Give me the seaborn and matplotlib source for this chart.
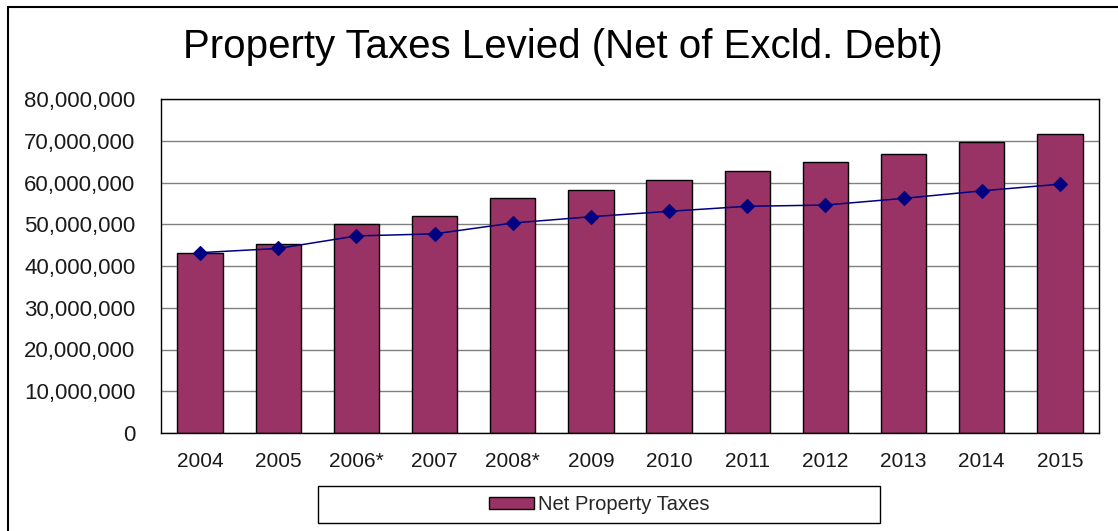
import matplotlib
matplotlib.use("Agg")
import matplotlib.pyplot as plt
from matplotlib.lines import Line2D
from matplotlib.patches import Rectangle, Patch
from matplotlib.ticker import FuncFormatter
import seaborn as sns
import pandas as pd

years = ["2004", "2005", "2006*", "2007", "2008*", "2009",
         "2010", "2011", "2012", "2013", "2014", "2015"]
net_taxes = [43.2e6, 45.3e6, 50.1e6, 52.0e6, 56.3e6, 58.2e6,
             60.7e6, 62.8e6, 64.8e6, 66.8e6, 69.7e6, 71.7e6]
levy_trend = [43.2e6, 44.2e6, 47.2e6, 47.7e6, 50.3e6, 51.8e6,
              53.1e6, 54.3e6, 54.6e6, 56.2e6, 58.0e6, 59.6e6]

title = "Property Taxes Levied (Net of Excld. Debt)"
legend_label = "Net Property Taxes"

bar_color = "#993366"
line_color = "#000080"

df = pd.DataFrame({"year": years, "net": net_taxes, "trend": levy_trend})

sns.set_theme(style="white")
plt.rcParams["font.family"] = ["Liberation Sans", "DejaVu Sans"]

W, H = 1118, 531
fig = plt.figure(figsize=(W / 100, H / 100), dpi=100)
ax = fig.add_axes([161 / W, 1 - 433 / H, (1099 - 161) / W, (433 - 99) / H])

sns.barplot(data=df, x="year", y="net", color=bar_color, saturation=1,
            width=0.58, edgecolor="black", linewidth=1.0, ax=ax, zorder=2)
sns.pointplot(data=df, x="year", y="trend", color=line_color, markers="D",
              markersize=7, linewidth=1.1, ax=ax, zorder=3)

ax.set_ylim(0, 80e6)
ax.set_yticks(range(0, 80000001, 10000000))
ax.yaxis.set_major_formatter(FuncFormatter(lambda v, p: f"{v:,.0f}"))
ax.grid(axis="y", color="#808080", linewidth=1.0, zorder=0)
ax.set_axisbelow(True)
ax.set_xlabel("")
ax.set_ylabel("")
for s in ax.spines.values():
    s.set_visible(True)
    s.set_color("black")
    s.set_linewidth(1.0)
ax.tick_params(axis="y", length=0, pad=18.5, labelsize=16, labelcolor="#1a1a1a")
ax.tick_params(axis="x", length=0, pad=14, labelsize=15, labelcolor="#1a1a1a")

fig.text(563 / W, 1 - 47 / H, title, ha="center", va="center",
         fontsize=29, color="black")

# legend box below the plot area
fig.add_artist(Rectangle((318 / W, 1 - 523 / H), (880 - 318) / W, 37 / H,
                         transform=fig.transFigure, facecolor="white",
                         edgecolor="black", linewidth=1.0))
handle = Patch(facecolor=bar_color, edgecolor="black", linewidth=1.0)
fig.legend([handle], [legend_label], loc="center",
           bbox_to_anchor=(599 / W, 1 - 504.5 / H), frameon=False,
           fontsize=14.5, handlelength=2.24, handleheight=0.55,
           handletextpad=0.2)

# outer frame (left and top edges)
fig.add_artist(Line2D([8 / W, 8 / W], [0, 1 - 7 / H], transform=fig.transFigure,
                      color="black", linewidth=1.5))
fig.add_artist(Line2D([8 / W, 1], [1 - 7 / H, 1 - 7 / H], transform=fig.transFigure,
                      color="black", linewidth=1.5))

fig.savefig("out.png", dpi=100, facecolor="white")
